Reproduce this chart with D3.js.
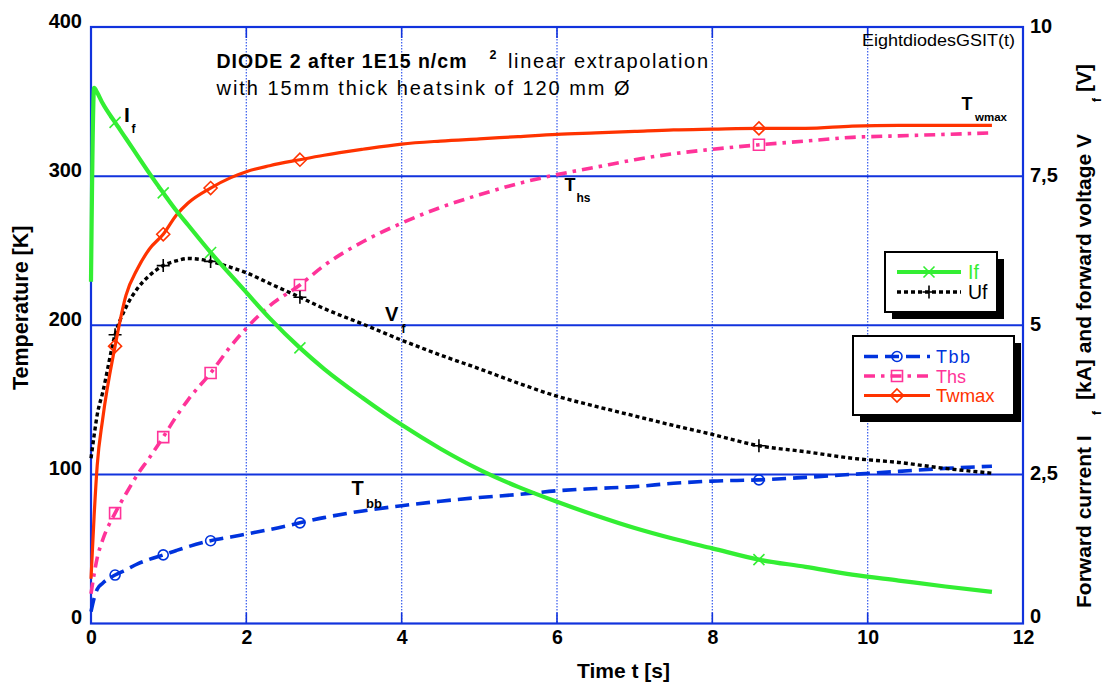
<!DOCTYPE html>
<html>
<head>
<meta charset="utf-8">
<script src="https://cdn.jsdelivr.net/npm/d3@7"></script>
<style>
  html, body { margin: 0; padding: 0; background: #fff; }
  svg { display: block; font-family: "Liberation Sans", Arial, Helvetica, sans-serif; }
</style>
</head>
<body>
<svg id="chart" width="1105" height="687"></svg>
<script>
// ---------------- data ----------------
const time  = [0, 0.04, 0.08, 0.15, 0.31, 0.45, 0.6, 0.75, 0.93, 1.1, 1.25, 1.54, 1.8, 2.0, 2.3, 2.69, 3.0, 3.5, 4.0, 4.5, 5.0, 5.5, 6.0, 6.5, 7.0, 7.5, 8.0, 8.6, 9.2, 9.8, 10.4, 11.0, 11.6];
const Twmax = [30, 72, 106, 137, 186, 220, 238, 251, 261, 274, 282, 292, 299, 303, 307, 311, 314, 318, 321.5, 323.5, 325, 326.5, 328, 329, 330, 331, 331.5, 332, 332, 333.5, 334, 334, 334];
const Ths   = [20, 33, 44, 56, 74, 87, 100, 111, 125, 139, 150, 168, 186, 198, 213, 227, 240, 256, 268.5, 279, 287.5, 295, 301, 306, 311, 315, 318, 321, 323.5, 326, 327, 328, 329];
const Tbb   = [8, 17, 23, 27, 32.5, 36, 40, 43, 46, 49, 51.5, 55.5, 58, 60, 63, 67.5, 71, 75.5, 79, 82, 84.5, 86.5, 89, 90.5, 91.8, 94, 95.5, 96.3, 98, 100, 102, 104, 105.5];
const If    = [5.73, 8.98, 8.9, 8.72, 8.4, 8.13, 7.84, 7.55, 7.22, 6.92, 6.68, 6.22, 5.84, 5.55, 5.12, 4.62, 4.27, 3.78, 3.33, 2.93, 2.58, 2.29, 2.04, 1.81, 1.6, 1.42, 1.26, 1.07, 0.95, 0.82, 0.72, 0.62, 0.53];
const Vf    = [2.77, 3.15, 3.5, 3.87, 4.84, 5.3, 5.62, 5.83, 6.0, 6.08, 6.12, 6.07, 5.97, 5.88, 5.7, 5.47, 5.28, 5.02, 4.75, 4.5, 4.27, 4.03, 3.81, 3.64, 3.48, 3.32, 3.17, 2.98, 2.88, 2.77, 2.7, 2.6, 2.52];
const markerTimes = [0.31, 0.93, 1.54, 2.69, 8.6];

const xTicks = [0, 2, 4, 6, 8, 10, 12];
const yTicks = [0, 100, 200, 300, 400];
const y2Ticks = [0, 2.5, 5, 7.5, 10];
const y2TickLabels = ["0", "2,5", "5", "7,5", "10"];

// ---------------- setup ----------------
const svg = d3.select("#chart");
const L = 91, R = 1023, T = 27, B = 623.5;
const x  = d3.scaleLinear([0, 12], [L, R]);
const y  = d3.scaleLinear([0, 400], [B, T]);
const y2 = d3.scaleLinear([0, 10], [B, T]);

const frameBlue = "#1133dd";
const gridDot = "#4466ee";
const cGreen = "#33ee33", cRed = "#ff3300", cPink = "#ff3399", cBlue = "#0033dd";

svg.append("rect").attr("width", 1105).attr("height", 687).attr("fill", "#fff");

// vertical dotted gridlines
svg.append("g").selectAll("line").data(xTicks.filter(d => d > 0 && d < 12)).join("line")
  .attr("x1", d => x(d)).attr("x2", d => x(d)).attr("y1", T).attr("y2", B)
  .attr("stroke", gridDot).attr("stroke-width", 1.3).attr("stroke-dasharray", "1.5,1.5");
// inner ticks top/bottom
svg.append("g").selectAll("line").data(xTicks.filter(d => d > 0 && d < 12)).join("line")
  .attr("x1", d => x(d)).attr("x2", d => x(d)).attr("y1", B - 11).attr("y2", B)
  .attr("stroke", frameBlue).attr("stroke-width", 1.6);
svg.append("g").selectAll("line").data(xTicks.filter(d => d > 0 && d < 12)).join("line")
  .attr("x1", d => x(d)).attr("x2", d => x(d)).attr("y1", T).attr("y2", T + 11)
  .attr("stroke", frameBlue).attr("stroke-width", 1.6);
// horizontal solid gridlines
svg.append("g").selectAll("line").data(yTicks.filter(d => d > 0 && d < 400)).join("line")
  .attr("x1", L).attr("x2", R).attr("y1", d => y(d)).attr("y2", d => y(d))
  .attr("stroke", frameBlue).attr("stroke-width", 2);
// frame
svg.append("rect").attr("x", L).attr("y", T).attr("width", R - L).attr("height", B - T)
  .attr("fill", "none").attr("stroke", frameBlue).attr("stroke-width", 2.2);

// axes (labels only)
const axL = svg.append("g").attr("transform", `translate(${L},0)`)
  .call(d3.axisLeft(y).tickValues(yTicks).tickSize(0).tickPadding(9));
axL.selectAll("text").attr("dy", "0").attr("font-size", 20).attr("font-weight", "bold").attr("fill", "#000")
  .attr("font-family", "Liberation Sans, Arial, sans-serif");
const axB = svg.append("g").attr("transform", `translate(0,${B})`)
  .call(d3.axisBottom(x).tickValues(xTicks).tickSize(0).tickFormat(d3.format("d")));
axB.selectAll("text").attr("y", 20.5).attr("dy", "0").attr("font-size", 19.5).attr("font-weight", "bold").attr("fill", "#000")
  .attr("font-family", "Liberation Sans, Arial, sans-serif");
const axR = svg.append("g").attr("transform", `translate(${R},0)`)
  .call(d3.axisRight(y2).tickValues(y2Ticks).tickSize(0).tickPadding(7).tickFormat((d, i) => y2TickLabels[i]));
axR.selectAll("text").attr("dy", d => d === 0 ? "-1.5" : "5").attr("font-size", 20).attr("font-weight", "bold").attr("fill", "#000")
  .attr("font-family", "Liberation Sans, Arial, sans-serif");
[axL, axB, axR].forEach(a => a.select(".domain").remove());

// ---------------- series ----------------
const series = [
  { name: "Tbb",   vals: Tbb,   sc: y,  color: cBlue,  w: 3.6, dash: "14,7",       marker: "circle" },
  { name: "Ths",   vals: Ths,   sc: y,  color: cPink,  w: 3.6, dash: "11,6,3.5,6", marker: "square" },
  { name: "Vf",    vals: Vf,    sc: y2, color: "#000", w: 3.4, dash: "4,3",        marker: "plus" },
  { name: "Twmax", vals: Twmax, sc: y,  color: cRed,   w: 3.2, dash: null,         marker: "diamond" },
  { name: "If",    vals: If,    sc: y2, color: cGreen, w: 4.2, dash: null,         marker: "times" },
];

function markerPath(type, s) {
  const p = d3.path();
  if (type === "circle") { p.moveTo(s, 0); p.arc(0, 0, s, 0, 2 * Math.PI); }
  else if (type === "square") { p.rect(-s, -s, 2 * s, 2 * s); }
  else if (type === "diamond") { p.moveTo(0, -s); p.lineTo(s, 0); p.lineTo(0, s); p.lineTo(-s, 0); p.closePath(); }
  else if (type === "plus") { p.moveTo(-s, 0); p.lineTo(s, 0); p.moveTo(0, -s); p.lineTo(0, s); }
  else if (type === "times") { p.moveTo(-s, -s); p.lineTo(s, s); p.moveTo(-s, s); p.lineTo(s, -s); }
  return p.toString();
}
const markerSize = { circle: 5, square: 5.5, diamond: 6.5, plus: 6.5, times: 5.5 };

const gLines = svg.append("g");
series.forEach(s => {
  const pts = time.map((t, i) => ({ t, v: s.vals[i] }));
  const line = d3.line().x(d => x(d.t)).y(d => s.sc(d.v)).curve(d3.curveMonotoneX);
  gLines.append("path").datum(pts).attr("d", line)
    .attr("fill", "none").attr("stroke", s.color).attr("stroke-width", s.w)
    .attr("stroke-dasharray", s.dash).attr("stroke-linejoin", "round");
  const mk = pts.filter(d => markerTimes.includes(d.t));
  gLines.append("g").selectAll("path").data(mk).join("path")
    .attr("transform", d => `translate(${x(d.t)},${s.sc(d.v)})`)
    .attr("d", markerPath(s.marker, markerSize[s.marker]))
    .attr("fill", "none").attr("stroke", s.color).attr("stroke-width", 1.6);
});

// ---------------- annotations ----------------
function label(main, sub, xx, yy, fs, subDx, subDy, subFs) {
  const g = svg.append("g").attr("font-weight", "bold").attr("fill", "#000");
  g.append("text").attr("x", xx).attr("y", yy).attr("font-size", fs).text(main);
  g.append("text").attr("x", xx + subDx).attr("y", yy + subDy).attr("font-size", subFs).text(sub);
}
label("I", "f", 124, 122, 21, 7.5, 11, 12);
label("V", "f", 385, 321, 20, 16.5, 12, 12);
label("T", "bb", 351.5, 495, 20, 14.5, 13, 13);
label("T", "hs", 564.5, 191, 18, 12, 11, 12);
label("T", "wmax", 961.5, 110, 18, 13.5, 11, 11.5);

svg.append("text").attr("x", 862).attr("y", 45.5).attr("font-size", 16)
  .attr("textLength", 153).attr("lengthAdjust", "spacingAndGlyphs").text("EightdiodesGSIT(t)");

// title lines
svg.append("text").attr("x", 216.5).attr("y", 68).attr("font-size", 19.5).attr("font-weight", "bold")
  .attr("textLength", 250).attr("lengthAdjust", "spacing").text("DIODE 2 after 1E15 n/cm");
svg.append("text").attr("x", 489.5).attr("y", 59).attr("font-size", 12.5).attr("font-weight", "bold").text("2");
svg.append("text").attr("x", 508).attr("y", 68).attr("font-size", 20)
  .attr("textLength", 200).attr("lengthAdjust", "spacing").text("linear extrapolation");
svg.append("text").attr("x", 216.5).attr("y", 95).attr("font-size", 20)
  .attr("textLength", 413).attr("lengthAdjust", "spacing").text("with 15mm thick heatsink of 120 mm Ø");

// axis titles
svg.append("text").attr("transform", "translate(28,390) rotate(-90)").attr("font-size", 21.5)
  .attr("font-weight", "bold").text("Temperature [K]");
svg.append("text").attr("x", 577).attr("y", 678).attr("font-size", 21).attr("font-weight", "bold").text("Time t [s]");
const gr = svg.append("g").attr("transform", "translate(1091,608) rotate(-90)").attr("font-weight", "bold");
gr.append("text").attr("x", 0).attr("y", 0).attr("font-size", 21).text("Forward current I");
gr.append("text").attr("x", 193).attr("y", 10).attr("font-size", 12).text("f");
gr.append("text").attr("x", 208).attr("y", 0).attr("font-size", 21).text("[kA] and forward voltage V");
gr.append("text").attr("x", 506).attr("y", 10).attr("font-size", 12).text("f");
gr.append("text").attr("x", 516).attr("y", 0).attr("font-size", 21).text("[V]");

// ---------------- legends ----------------
function legend(box, items) {
  const g = svg.append("g");
  g.append("rect").attr("x", box.x + 7).attr("y", box.y + 7).attr("width", box.w).attr("height", box.h).attr("fill", "#000");
  g.append("rect").attr("x", box.x).attr("y", box.y).attr("width", box.w).attr("height", box.h)
    .attr("fill", "#fff").attr("stroke", "#000").attr("stroke-width", 2);
  items.forEach(it => {
    const s = series.find(d => d.name === it.key);
    g.append("line").attr("x1", it.x1).attr("x2", it.x2).attr("y1", it.y).attr("y2", it.y)
      .attr("stroke", s.color).attr("stroke-width", s.w).attr("stroke-dasharray", s.dash);
    g.append("path").attr("transform", `translate(${(it.x1 + it.x2) / 2},${it.y})`)
      .attr("d", markerPath(s.marker, markerSize[s.marker])).attr("fill", "none")
      .attr("stroke", s.color).attr("stroke-width", 1.6);
    g.append("text").attr("x", it.tx).attr("y", it.y + 6.5).attr("font-size", it.fs || 20)
      .attr("letter-spacing", it.ls || 0)
      .attr("fill", it.tc || s.color).text(it.label);
  });
}
legend({ x: 885, y: 252, w: 112, h: 60 }, [
  { key: "If", label: "If", x1: 897, x2: 961, y: 272, tx: 968, fs: 19.5 },
  { key: "Vf", label: "Uf", x1: 897, x2: 961, y: 292, tx: 968, tc: "#000", fs: 19.5 },
]);
legend({ x: 853, y: 336, w: 161, h: 79 }, [
  { key: "Tbb", label: "Tbb", x1: 864, x2: 930, y: 356.5, tx: 936, ls: 1.5, fs: 18 },
  { key: "Ths", label: "Ths", x1: 864, x2: 930, y: 376, tx: 936, fs: 18 },
  { key: "Twmax", label: "Twmax", x1: 864, x2: 930, y: 395.5, tx: 936, fs: 18.5 },
]);
</script>
</body>
</html>
